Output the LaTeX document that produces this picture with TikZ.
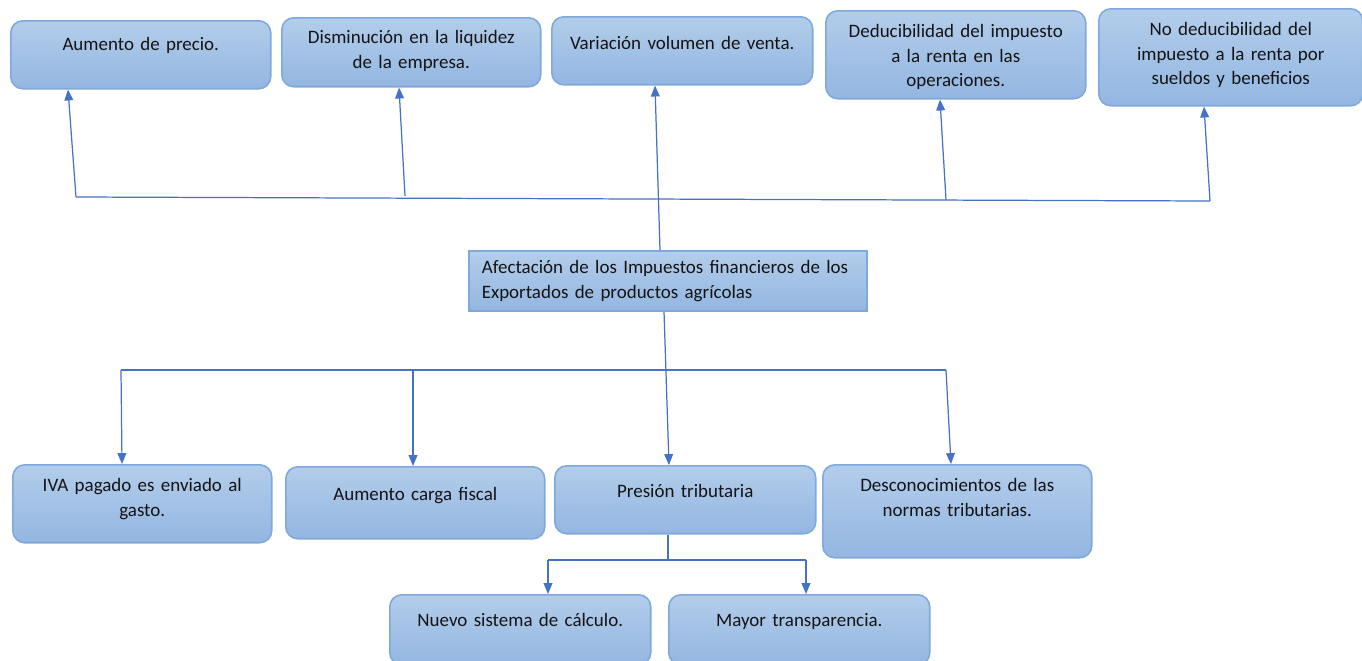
\documentclass[tikz,border=0pt]{standalone}
\usepackage{fontspec}
\setmainfont{Carlito}
\usepackage{xcolor}
\usepackage{tikz}
\usetikzlibrary{arrows.meta}
\definecolor{celltop}{HTML}{B3CDEB}
\definecolor{cellbot}{HTML}{93B6E1}
\definecolor{cellline}{HTML}{80A9DB}
\definecolor{celltext}{HTML}{141414}
\definecolor{linkblue}{HTML}{4472C4}
\newcommand{\cellfont}{\fontsize{10.8}{13.8}\selectfont}

\tikzset{
	cell/.style={draw=cellline, line width=0.9pt, top color=celltop, bottom color=cellbot,
		rounded corners=0.24cm, anchor=north west, inner sep=0pt, align=center,
		text=celltext, font=\cellfont},
	link/.style={draw=linkblue, line width=0.7pt},
	linkarrow/.style={link, -{Triangle[length=6.2pt,width=5pt]}}
}

\begin{document}
\begin{tikzpicture}[x=0.02cm, y=-0.02cm]
	\useasboundingbox (0,0) rectangle (1362,660);
	\clip (0,0) rectangle (1362,660);

	% upper row
	\node[cell, text width=5.20cm, text height=0.60cm, text depth=0.76cm] (precio)		at (10,20)		{Aumento de precio.};
	\node[cell, text width=5.18cm, text height=0.52cm, text depth=0.86cm] (liquidez)	at (281,17)		{Disminución en la liquidez\\de la empresa.};
	\node[cell, text width=5.22cm, text height=0.66cm, text depth=0.70cm] (venta)		at (551,16)		{Variación volumen de venta.};
	\node[cell, text width=5.20cm, text height=0.54cm, text depth=1.22cm] (deduc)		at (825,10)		{Deducibilidad del impuesto\\a la renta en las\\operaciones.};
	\node[cell, text width=5.28cm, text height=0.54cm, text depth=1.40cm] (nodeduc)	at (1098,8)		{No deducibilidad del\\impuesto a la renta por\\sueldos y beneficios};

	% centre
	\node[cell, rounded corners=0pt, align=left, inner xsep=0.26cm, text width=7.44cm,
		text height=0.46cm, text depth=0.74cm] (afect) at (468,250)
		{Afectación de los Impuestos financieros de los\\Exportados de productos agrícolas};

	% lower row
	\node[cell, text width=5.18cm, text height=0.54cm, text depth=1.02cm] (iva)		at (12,464)		{IVA pagado es enviado al\\gasto.};
	\node[cell, text width=5.18cm, text height=0.68cm, text depth=0.76cm] (carga)		at (285,466)	{Aumento carga fiscal};
	\node[cell, text width=5.22cm, text height=0.64cm, text depth=0.72cm] (presion)	at (554,465)	{Presión tributaria};
	\node[cell, text width=5.38cm, text height=0.54cm, text depth=1.32cm] (descon)		at (822,464)	{Desconocimientos de las\\normas tributarias.};
	\node[cell, text width=5.22cm, text height=0.64cm, text depth=0.76cm] (nuevo)		at (389,594)	{Nuevo sistema de cálculo.};
	\node[cell, text width=5.22cm, text height=0.64cm, text depth=0.76cm] (mayor)		at (668,594)	{Mayor transparencia.};

	% upper connectors
	\coordinate (upL)	at (76,197);
	\coordinate (upB)	at (405,196);
	\coordinate (upD)	at (946,200);
	\coordinate (upR)	at (1210,201);
	\draw[link] (upL) -- (upR);
	\draw[linkarrow] (upL) -- (68,0 |- precio.south);
	\draw[linkarrow] (upB) -- (399,0 |- liquidez.south);
	\draw[linkarrow] (660,0 |- afect.north) -- (655,0 |- venta.south);
	\draw[linkarrow] (upD) -- (940,0 |- deduc.south);
	\draw[linkarrow] (upR) -- (1204,0 |- nodeduc.south);

	% lower connectors
	\coordinate (loL)	at (121,370);
	\coordinate (loB)	at (413,370);
	\coordinate (loR)	at (946,370);
	\draw[link] (loL) -- (loR);
	\draw[linkarrow] (664,0 |- afect.south) -- (669,0 |- presion.north);
	\draw[linkarrow] (loL) -- (122,0 |- iva.north);
	\draw[linkarrow] (loB) -- (413,0 |- carga.north);
	\draw[linkarrow] (loR) -- (951,0 |- descon.north);

	% presion branches
	\coordinate (prJ)	at (668,560);
	\coordinate (prL)	at (548,560);
	\coordinate (prR)	at (806,560);
	\draw[link] (presion.south -| prJ) -- (prJ);
	\draw[link] (prL) -- (prR);
	\draw[linkarrow] (prL) -- (prL |- nuevo.north);
	\draw[linkarrow] (prR) -- (prR |- mayor.north);
\end{tikzpicture}
\end{document}
